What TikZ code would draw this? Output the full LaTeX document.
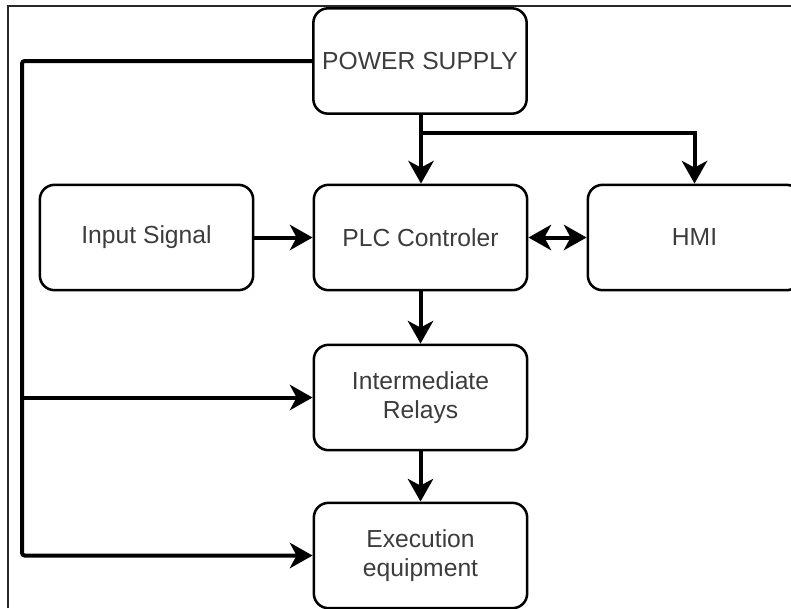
\documentclass[tikz,border=0pt]{standalone}
\usepackage{fontspec}
\setmainfont{Liberation Sans}
\usepackage{xcolor}
\definecolor{Black}{RGB}{0,0,0}
\definecolor{Ink}{RGB}{60,60,60}
\definecolor{Frame}{RGB}{40,40,40}
\usetikzlibrary{arrows.meta}

\tikzset{
	block/.style={draw=Black, line width=1.9pt, rounded corners=11pt, minimum width=160pt, minimum height=79pt, inner sep=0pt, align=center, text=Ink, font=\fontsize{18.5}{22}\selectfont},
	tip/.tip={Stealth[length=17pt,width=19pt,inset=5pt]},
	link/.style={draw=Black, line width=3pt, -tip},
	both/.style={link, tip-tip}
}

\begin{document}
\begin{tikzpicture}[x=0.75pt, y=-0.75pt]
		
		\useasboundingbox (0,0) rectangle (791,608);
		\clip (0,0) rectangle (791,608);
		
		% Frame
		\draw[draw=Frame, line width=0.8pt] (8,608) -- (8,6) -- (791,6);
		
		% Blocks
		\node[block] (power) at (420,61) {POWER SUPPLY};
		\node[block] (plc) at (420.5,237.5) {PLC Controler};
		\node[block] (input) at (146.5,237.5) {Input Signal};
		\node[block] (hmi) at (694.5,237.5) {HMI};
		\node[block] (relays) at (420.5,397.5) {Intermediate\\Relays};
		\node[block] (exec) at (420.5,555.5) {Execution\\equipment};
		
		% Corners
		\coordinate (split) at (421,133);
		\coordinate (top) at (22,61);
		\coordinate (mid) at (22,397.5);
		\coordinate (bot) at (22,555.5);
		
		% Power lines
		\draw[link] (power.south -| split) -- (plc.north -| split);
		\draw[link] (split) -| (hmi.north);
		\draw[link, rounded corners=2pt] (power.west) -- (top) -- (bot) -- (exec.west);
		\draw[link] (mid) -- (relays.west);
		
		% Signal lines
		\draw[link] (input) -- (plc);
		\draw[both] (plc) -- (hmi);
		\draw[link] (plc) -- (relays);
		\draw[link] (relays) -- (exec);
		
	\end{tikzpicture}
\end{document}
